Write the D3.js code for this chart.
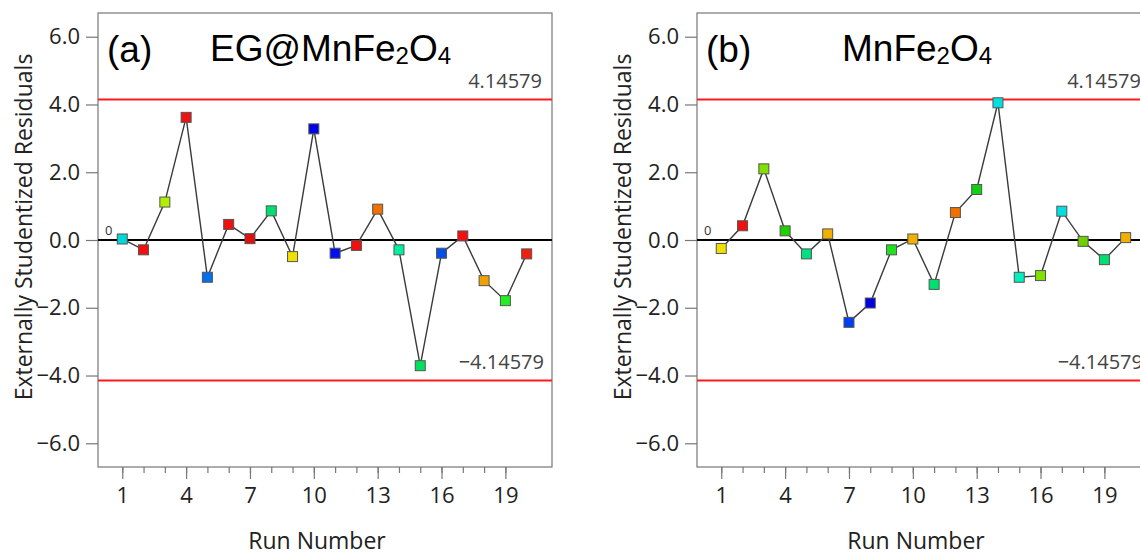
<!DOCTYPE html>
<html>
<head>
<meta charset="utf-8">
<script src="https://cdn.jsdelivr.net/npm/d3@7"></script>
<style>
  body { margin: 0; background: #fff; }
  svg { display: block; }
</style>
</head>
<body>
<div id="chart"></div>
<script>
// run numbers and residuals
const runs = [1, 2, 3, 4, 5, 6, 7, 8, 9, 10, 11, 12, 13, 14, 15, 16, 17, 18, 19, 20];
const residualsA = [0.03, -0.29, 1.12, 3.62, -1.10, 0.46, 0.04, 0.86, -0.49, 3.28,
                    -0.39, -0.16, 0.91, -0.29, -3.71, -0.39, 0.12, -1.20, -1.79, -0.41];
const residualsB = [-0.25, 0.42, 2.10, 0.27, -0.41, 0.18, -2.43, -1.86, -0.29, 0.03,
                    -1.31, 0.81, 1.49, 4.05, -1.10, -1.05, 0.85, -0.04, -0.58, 0.07];
const colorsA = ["#00d8d8", "#f01010", "#b0f000", "#ee1111", "#0070f0", "#f01010", "#e01010",
                 "#00e070", "#f0e000", "#0000e8", "#0010f0", "#f01010", "#f07000", "#00f0a0",
                 "#00e060", "#0050e8", "#f01010", "#f0a000", "#20f020", "#f02010"];
const colorsB = ["#f0e000", "#f01010", "#80e000", "#20d000", "#00e080", "#f0b000", "#0040f0",
                 "#0000e0", "#20e020", "#f0b000", "#00e070", "#f07000", "#10d010", "#00e0e0",
                 "#00f0c0", "#80e000", "#00e0e0", "#70d000", "#00e070", "#f0b000"];
const minorTicks = [1, 2, 3, 4, 5, 6, 7, 8, 9, 10, 11, 12, 13, 14, 15, 16, 17, 18, 19];
const majorTicks = [1, 4, 7, 10, 13, 16, 19];
const yTicks = [-6, -4, -2, 0, 2, 4, 6];
const limit = 4.14579;

const W = 1140, H = 555;
const svg = d3.select("#chart").append("svg")
    .attr("width", W)
    .attr("height", H)
    .style("font-family", "'Open Sans', 'Noto Sans', sans-serif");

const pw = 454, ph = 454;

let x = d3.scaleLinear().domain([-0.14, 21.19]).range([0, pw]);
let y = d3.scaleLinear().domain([-6.7, 6.7]).range([ph, 0]);

function drawPanel(left, top, tag, name, vals, cols, titleX) {
  let g = svg.append("g").attr("transform", "translate(" + left + "," + top + ")");

  g.append("rect")
      .attr("width", pw)
      .attr("height", ph)
      .attr("fill", "none")
      .attr("stroke", "#777")
      .attr("stroke-width", 1.2);

  // y axis
  let ya = g.append("g")
      .call(d3.axisLeft(y).tickValues(yTicks).tickSize(12).tickPadding(6)
        .tickFormat(d3.format(".1f")));
  ya.select(".domain").remove();
  ya.selectAll("line").attr("stroke", "#777").attr("stroke-width", 1.2);
  ya.selectAll("text").attr("font-size", 22).attr("fill", "#222")
      .style("font-family", "'Open Sans', sans-serif");

  // x axis: minor then major ticks
  let xm = g.append("g").attr("transform", "translate(0," + ph + ")")
      .call(d3.axisBottom(x).tickValues(minorTicks).tickSize(6).tickFormat(""));
  xm.select(".domain").remove();
  xm.selectAll("line").attr("stroke", "#777").attr("stroke-width", 1.2);

  let xa = g.append("g").attr("transform", "translate(0," + ph + ")")
      .call(d3.axisBottom(x).tickValues(majorTicks).tickSize(12).tickPadding(8));
  xa.select(".domain").remove();
  xa.selectAll("line").attr("stroke", "#777").attr("stroke-width", 1.2);
  xa.selectAll("text").attr("font-size", 22).attr("fill", "#222")
      .style("font-family", "'Open Sans', sans-serif");

  // limit lines and zero line
  [limit, -limit].forEach(function(v) {
    g.append("line")
        .attr("x1", 0).attr("x2", pw)
        .attr("y1", y(v)).attr("y2", y(v))
        .attr("stroke", "#ff1a1a")
        .attr("stroke-width", 2);
  });
  g.append("line")
      .attr("x1", 0).attr("x2", pw)
      .attr("y1", y(0)).attr("y2", y(0))
      .attr("stroke", "#000")
      .attr("stroke-width", 2);

  g.append("text")
      .attr("x", 7).attr("y", y(0) - 5)
      .attr("font-size", 13).attr("fill", "#333")
      .text("0");
  g.append("text")
      .attr("x", pw - 10).attr("y", y(limit) - 12)
      .attr("text-anchor", "end")
      .attr("font-size", 20).attr("fill", "#444")
      .text(d3.format(".5f")(limit));
  g.append("text")
      .attr("x", pw - 8).attr("y", y(-limit) - 11)
      .attr("text-anchor", "end")
      .attr("font-size", 20).attr("fill", "#444")
      .text(d3.format(".5f")(-limit));

  // connecting line and markers
  let line = d3.line()
      .x(function(d, i) { return x(runs[i]); })
      .y(function(d) { return y(d); });
  g.append("path")
      .datum(vals)
      .attr("d", line)
      .attr("fill", "none")
      .attr("stroke", "#3a3a3a")
      .attr("stroke-width", 1.4);

  g.selectAll(".pt")
      .data(vals)
    .enter().append("rect")
      .attr("class", "pt")
      .attr("x", function(d, i) { return x(runs[i]) - 5; })
      .attr("y", function(d) { return y(d) - 5; })
      .attr("width", 10)
      .attr("height", 10)
      .attr("fill", function(d, i) { return cols[i]; })
      .attr("stroke", "#555")
      .attr("stroke-width", 1);

  // panel titles
  g.append("text")
      .attr("x", 9).attr("y", 49)
      .attr("font-size", 37)
      .style("font-family", "'Liberation Sans', Arial, sans-serif")
      .text(tag);
  let t = g.append("text")
      .attr("x", titleX).attr("y", 48)
      .attr("font-size", 37)
      .style("font-family", "'Liberation Sans', Arial, sans-serif");
  name.forEach(function(p) {
    if (p.sub) {
      t.append("tspan").attr("font-size", 24).attr("dy", 3).text(p.s);
    } else {
      t.append("tspan").attr("dy", p.back ? -3 : 0).text(p.s);
    }
  });

  // axis titles
  g.append("text")
      .attr("x", pw / 2 - 8).attr("y", ph + 82)
      .attr("text-anchor", "middle")
      .attr("font-size", 23).attr("fill", "#222")
      .text("Run Number");
  g.append("text")
      .attr("transform", "translate(-66," + (ph / 2 - 13) + ") rotate(-90)")
      .attr("text-anchor", "middle")
      .attr("font-size", 23).attr("fill", "#222")
      .text("Externally Studentized Residuals");
}

drawPanel(98, 13, "(a)",
  [{s: "EG@MnFe"}, {s: "2", sub: true}, {s: "O", back: true}, {s: "4", sub: true}],
  residualsA, colorsA, 112);
drawPanel(697, 13, "(b)",
  [{s: "MnFe"}, {s: "2", sub: true}, {s: "O", back: true}, {s: "4", sub: true}],
  residualsB, colorsB, 145);
</script>
</body>
</html>
